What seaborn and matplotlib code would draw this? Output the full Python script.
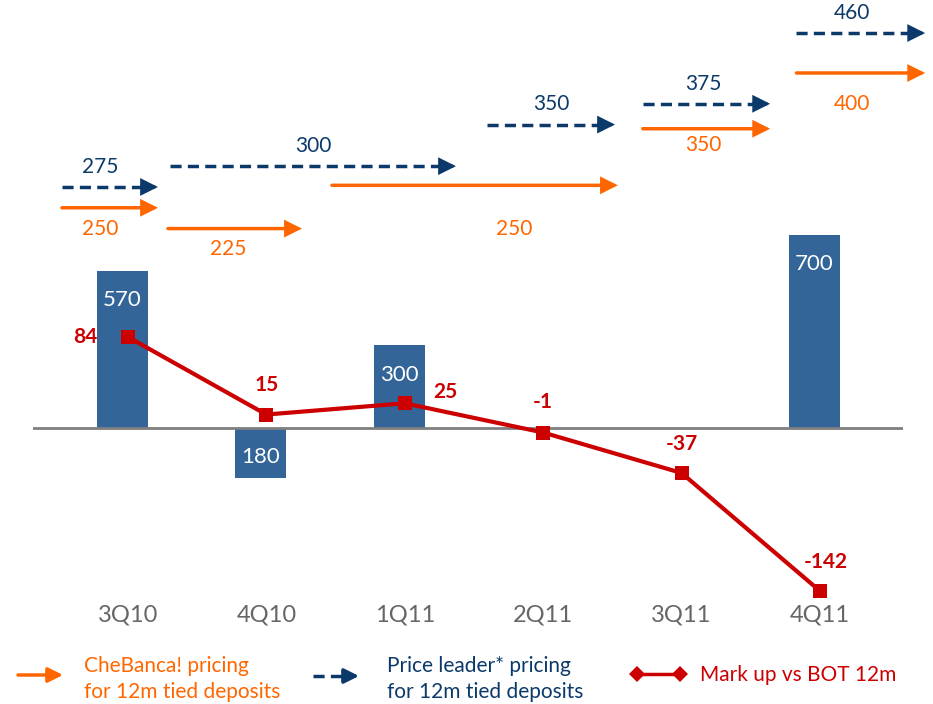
import numpy as np
import pandas as pd
import matplotlib
matplotlib.use('Agg')
import matplotlib.pyplot as plt
from matplotlib.lines import Line2D
import seaborn as sns

"""Net flows vs pricing of 12m tied deposits, CheBanca! vs price leader"""

quarters = ['3Q10', '4Q10', '1Q11', '2Q11', '3Q11', '4Q11']
net_flows = [570, -180, 300, 0, 0, 700]
markup = [84, 15, 25, -1, -37, -142]

chebanca_price = [250, 225, 250, 350, 400]
leader_price = [275, 300, 350, 375, 460]

# layout only: horizontal extent of each pricing arrow (category units)
cb_span = [(-0.477, 0.217), (0.289, 1.257), (1.474, 3.54), (3.72, 4.64), (4.83, 5.76)]
pl_span = [(-0.477, 0.217), (0.303, 2.37), (2.594, 3.519), (3.72, 4.64), (4.83, 5.76)]
cb_nudge = [0, 0, 27, -5, 12]          # raise arrow a bit where it would collide
cb_label_dx = [-7, -5, 28, -2, -6]      # label shift in points
pl_label_dx = [-7, 0, 0, -2, -6]

# label offsets for the markup points (points)
mk_off = [(-22, 0), (0, 21), (29, 8), (0, 22), (0, 21), (4, 21)]
mk_ha = ['right', 'center', 'center', 'center', 'center', 'center']

orange = '#FF6600'
navy = '#0B3A6A'
red = '#CC0000'
bar_c = '#336599'

sns.set_theme(style='white')
plt.rcParams['font.family'] = ['Lato', 'DejaVu Sans']

fig = plt.figure(figsize=(9.33, 7.04), dpi=100)
rect = [33/933, 104/704, 870/933, 590/704]
xlim = (-0.686, 5.6)

ax_bar = fig.add_axes(rect)
ax_arr = fig.add_axes(rect)
ax_line = fig.add_axes(rect)
for a in (ax_bar, ax_arr, ax_line):
	a.set_facecolor('none')
	for s in a.spines.values():
		s.set_visible(False)
	a.set_yticks([])

#bars
df = pd.DataFrame({'quarter': quarters, 'flow': net_flows, 'markup': markup})
sns.barplot(data=df, x='quarter', y='flow', order=quarters, color=bar_c,
			saturation=1, width=0.37, errorbar=None, linewidth=0, ax=ax_bar)
ax_bar.set_xlim(xlim[0] + 0.04, xlim[1] + 0.04)
ax_bar.set_ylim(-624.5, 1517.8)
ax_bar.axhline(0, color='#7F7F7F', lw=2)
ax_bar.set_xticks([])
ax_bar.set_xlabel('')
ax_bar.set_ylabel('')
for i, v in enumerate(net_flows):
	if v == 0:
		continue
	ax_bar.annotate(str(abs(v)), (i, max(v, 0)), xytext=(0, -21), textcoords='offset points',
					ha='center', va='center', color='white', fontsize=16)

#pricing arrows
ax_arr.set_xlim(xlim)
ax_arr.set_ylim(-221.4, 487.7)
ax_arr.set_xticks([])

def arrow(ax, x0, x1, y, color, dashed):
	head = 0.1
	props = dict(arrowstyle='-|>', mutation_scale=22, color=color, lw=2.5,
				 shrinkA=0, shrinkB=0, joinstyle='miter')
	if dashed:
		ax.plot([x0, x1 - head], [y, y], color=color, lw=2.5, dashes=(3.2, 1.8),
				solid_capstyle='butt', clip_on=False)
		ax.annotate('', xy=(x1, y), xytext=(x1 - head - 0.02, y), arrowprops=props,
					annotation_clip=False)
	else:
		ax.annotate('', xy=(x1, y), xytext=(x0, y), arrowprops=props, annotation_clip=False)

for k in range(5):
	x0, x1 = pl_span[k]
	arrow(ax_arr, x0, x1, leader_price[k], navy, True)
	ax_arr.annotate(str(leader_price[k]), ((x0 + x1) / 2, leader_price[k]),
					xytext=(pl_label_dx[k], 14.5), textcoords='offset points',
					ha='center', va='center', color=navy, fontsize=15, annotation_clip=False)
	x0, x1 = cb_span[k]
	arrow(ax_arr, x0, x1, chebanca_price[k] + cb_nudge[k], orange, False)
	ax_arr.annotate(str(chebanca_price[k]), ((x0 + x1) / 2, chebanca_price[k]),
					xytext=(cb_label_dx[k], -15), textcoords='offset points',
					ha='center', va='center', color=orange, fontsize=15, annotation_clip=False)

#mark up line
sns.lineplot(data=df, x='quarter', y='markup', sort=False, color=red, lw=3,
			 marker='s', markersize=10, markeredgewidth=0, ax=ax_line)
ax_line.set_xlim(xlim)
ax_line.set_ylim(-150, 374.9)
ax_line.set_yticks([])
ax_line.set_xlabel('')
ax_line.set_ylabel('')
ax_line.tick_params(axis='x', length=0, pad=3, labelsize=17, labelcolor='#666666')
for i, v in enumerate(markup):
	ax_line.annotate(str(v), (i, v), xytext=mk_off[i], textcoords='offset points',
					 ha=mk_ha[i], va='center', color=red, fontsize=15, fontweight='bold')

#legend drawn by hand at the bottom
def fx(px):
	return px / 933
def fy(py):
	return 1 - py / 704

ax_line.annotate('', xy=(fx(63), fy(675)), xytext=(fx(18), fy(675)), xycoords='figure fraction',
				 arrowprops=dict(arrowstyle='-|>', mutation_scale=22, color=orange, lw=2.5,
								 shrinkA=0, shrinkB=0), annotation_clip=False)
fig.text(fx(84), fy(679), 'CheBanca! pricing\nfor 12m tied deposits', color=orange,
		 fontsize=15, va='center', ha='left', linespacing=1.4)

fig.add_artist(Line2D([fx(313), fx(346)], [fy(676), fy(676)], color=navy, lw=2.5,
					  dashes=(3.2, 1.8), transform=fig.transFigure))
ax_line.annotate('', xy=(fx(359), fy(676)), xytext=(fx(344), fy(676)), xycoords='figure fraction',
				 arrowprops=dict(arrowstyle='-|>', mutation_scale=22, color=navy, lw=2.5,
								 shrinkA=0, shrinkB=0), annotation_clip=False)
fig.text(fx(387), fy(679), 'Price leader* pricing\nfor 12m tied deposits', color=navy,
		 fontsize=15, va='center', ha='left', linespacing=1.4)

fig.add_artist(Line2D([fx(637), fx(680)], [fy(674), fy(674)], color=red, lw=2.5,
					  marker='D', markersize=8, markeredgewidth=0, transform=fig.transFigure))
fig.text(fx(700), fy(675), 'Mark up vs BOT 12m', color=red, fontsize=15, va='center', ha='left')

fig.savefig('out.png', dpi=100)
